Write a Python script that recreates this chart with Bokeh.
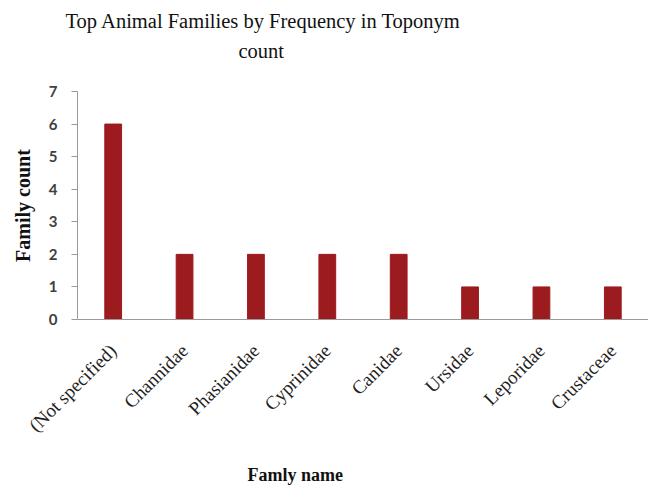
import math
from bokeh.plotting import figure
from bokeh.models import Range1d, FactorRange, FixedTicker, Title
from bokeh.embed import file_html
from bokeh.resources import INLINE

families = ["(Not specified)", "Channidae", "Phasianidae", "Cyprinidae",
            "Canidae", "Ursidae", "Leporidae", "Crustaceae"]
counts = [6, 2, 2, 2, 2, 1, 1, 1]
y_ticks = [0, 1, 2, 3, 4, 5, 6, 7]
title_lines = ["Top Animal Families by Frequency in Toponym", "count"]
x_title = "Famly name"
y_title = "Family count"

SERIF = "Liberation Serif"

p = figure(width=648, height=488, output_backend="svg", toolbar_location=None,
           x_range=FactorRange(factors=families, range_padding=0),
           y_range=Range1d(0, 7),
           min_border_left=77, min_border_right=0, min_border_top=91,
           min_border_bottom=169)
p.title = None

p.vbar(x=families, top=counts, width=0.235, color="#9C1B1E")

p.xgrid.visible = False
p.ygrid.visible = False
p.outline_line_color = None

# x axis
p.xaxis.major_label_orientation = math.pi / 4
p.xaxis.major_tick_line_color = None
p.xaxis.minor_tick_line_color = None
p.xaxis.axis_line_color = "#9a9a9a"
p.xaxis.major_label_text_font = SERIF
p.xaxis.major_label_text_font_size = "19px"
p.xaxis.major_label_text_color = "#1e1e1e"
p.xaxis.major_label_standoff = 22

# y axis
p.yaxis.ticker = FixedTicker(ticks=y_ticks)
p.yaxis.minor_tick_line_color = None
p.yaxis.major_tick_out = 6
p.yaxis.major_tick_in = 0
p.yaxis.axis_line_color = "#9a9a9a"
p.yaxis.major_tick_line_color = "#9a9a9a"
p.yaxis.major_label_text_font = "Lato"
p.yaxis.major_label_text_font_style = "bold"
p.yaxis.major_label_text_font_size = "15px"
p.yaxis.major_label_text_color = "#404040"
p.yaxis.major_label_standoff = 14
p.yaxis.axis_label = y_title
p.yaxis.axis_label_text_font = SERIF
p.yaxis.axis_label_text_font_style = "bold"
p.yaxis.axis_label_text_font_size = "20px"
p.yaxis.axis_label_text_color = "#111111"
p.yaxis.axis_label_standoff = 12

# titles
def make_title(text, offset, size, style="normal", standoff=0):
    return Title(text=text, align="left", offset=offset, text_font=SERIF,
                 text_font_size=size, text_font_style=style,
                 text_color="#111111", standoff=standoff)

# spacing panel between frame and title block
p.add_layout(make_title(" ", 0, "1px", standoff=27), "above")
p.add_layout(make_title(title_lines[1], 161, "20.5px"), "above")
p.add_layout(make_title(title_lines[0], -12, "20.5px", standoff=12), "above")

p.add_layout(make_title(" ", 0, "1px", standoff=13), "below")
p.add_layout(make_title(x_title, 170, "18px", "bold"), "below")

open("out.html", "w").write(file_html(p, INLINE))
